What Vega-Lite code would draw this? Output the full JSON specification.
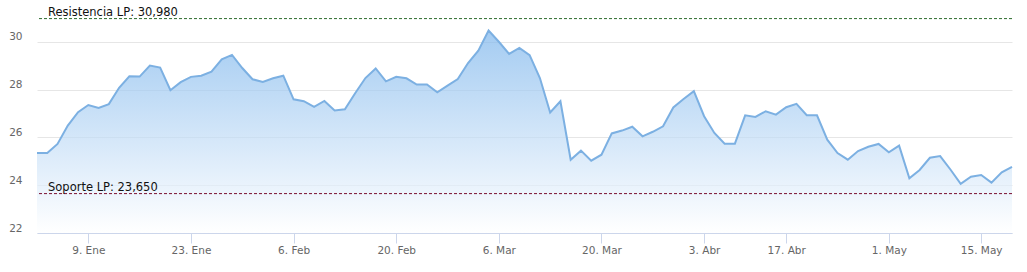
{
  "$schema": "https://vega.github.io/schema/vega-lite/v6.json",
  "width": 975,
  "height": 223,
  "autosize": {"type": "none"},
  "padding": {"left": 37, "top": 10, "right": 15, "bottom": 39},
  "background": "white",
  "config": {
    "view": {"stroke": null},
    "font": "DejaVu Sans",
    "axisX": {"labelAngle": 0, "tickSize": 10, "tickColor": "#ccd6eb", "domainColor": "#ccd6eb", "labelColor": "#666666", "labelFontSize": 10.5, "grid": false, "labelPadding": 2, "title": null},
    "axisY": {"domain": false, "ticks": false, "gridColor": "#e6e6e6", "labelColor": "#666666", "labelFontSize": 10.5, "labelPadding": 15, "labelBaseline": "alphabetic", "labelOffset": -2, "title": null}
  },
  "layer": [
    {
      "data": {"values": [
        {"d": "2017-01-02", "v": 25.35}, {"d": "2017-01-03", "v": 25.35}, {"d": "2017-01-04", "v": 25.73}, {"d": "2017-01-05", "v": 26.5}, {"d": "2017-01-06", "v": 27.06},
        {"d": "2017-01-09", "v": 27.36}, {"d": "2017-01-10", "v": 27.24}, {"d": "2017-01-11", "v": 27.4}, {"d": "2017-01-12", "v": 28.08}, {"d": "2017-01-13", "v": 28.56},
        {"d": "2017-01-16", "v": 28.55}, {"d": "2017-01-17", "v": 29.01}, {"d": "2017-01-18", "v": 28.93}, {"d": "2017-01-19", "v": 27.98}, {"d": "2017-01-20", "v": 28.32},
        {"d": "2017-01-23", "v": 28.54}, {"d": "2017-01-24", "v": 28.59}, {"d": "2017-01-25", "v": 28.76}, {"d": "2017-01-26", "v": 29.27}, {"d": "2017-01-27", "v": 29.46},
        {"d": "2017-01-30", "v": 28.91}, {"d": "2017-01-31", "v": 28.44}, {"d": "2017-02-01", "v": 28.33}, {"d": "2017-02-02", "v": 28.48}, {"d": "2017-02-03", "v": 28.59},
        {"d": "2017-02-06", "v": 27.6}, {"d": "2017-02-07", "v": 27.52}, {"d": "2017-02-08", "v": 27.28}, {"d": "2017-02-09", "v": 27.53}, {"d": "2017-02-10", "v": 27.13},
        {"d": "2017-02-13", "v": 27.18}, {"d": "2017-02-14", "v": 27.85}, {"d": "2017-02-15", "v": 28.49}, {"d": "2017-02-16", "v": 28.89}, {"d": "2017-02-17", "v": 28.35},
        {"d": "2017-02-20", "v": 28.54}, {"d": "2017-02-21", "v": 28.48}, {"d": "2017-02-22", "v": 28.22}, {"d": "2017-02-23", "v": 28.22}, {"d": "2017-02-24", "v": 27.89},
        {"d": "2017-02-27", "v": 28.17}, {"d": "2017-02-28", "v": 28.45}, {"d": "2017-03-01", "v": 29.12}, {"d": "2017-03-02", "v": 29.64}, {"d": "2017-03-03", "v": 30.48},
        {"d": "2017-03-06", "v": 30.01}, {"d": "2017-03-07", "v": 29.5}, {"d": "2017-03-08", "v": 29.75}, {"d": "2017-03-09", "v": 29.45}, {"d": "2017-03-10", "v": 28.49},
        {"d": "2017-03-13", "v": 27.05}, {"d": "2017-03-14", "v": 27.52}, {"d": "2017-03-15", "v": 25.07}, {"d": "2017-03-16", "v": 25.45}, {"d": "2017-03-17", "v": 25.03},
        {"d": "2017-03-20", "v": 25.28}, {"d": "2017-03-21", "v": 26.17}, {"d": "2017-03-22", "v": 26.29}, {"d": "2017-03-23", "v": 26.45}, {"d": "2017-03-24", "v": 26.05},
        {"d": "2017-03-27", "v": 26.24}, {"d": "2017-03-28", "v": 26.47}, {"d": "2017-03-29", "v": 27.26}, {"d": "2017-03-30", "v": 27.61}, {"d": "2017-03-31", "v": 27.94},
        {"d": "2017-04-03", "v": 26.89}, {"d": "2017-04-04", "v": 26.19}, {"d": "2017-04-05", "v": 25.74}, {"d": "2017-04-06", "v": 25.74}, {"d": "2017-04-07", "v": 26.93},
        {"d": "2017-04-10", "v": 26.86}, {"d": "2017-04-11", "v": 27.1}, {"d": "2017-04-12", "v": 26.96}, {"d": "2017-04-13", "v": 27.27},
        {"d": "2017-04-18", "v": 27.41}, {"d": "2017-04-19", "v": 26.93}, {"d": "2017-04-20", "v": 26.93}, {"d": "2017-04-21", "v": 25.91},
        {"d": "2017-04-24", "v": 25.35}, {"d": "2017-04-25", "v": 25.07}, {"d": "2017-04-26", "v": 25.43}, {"d": "2017-04-27", "v": 25.61}, {"d": "2017-04-28", "v": 25.73},
        {"d": "2017-05-02", "v": 25.38}, {"d": "2017-05-03", "v": 25.66}, {"d": "2017-05-04", "v": 24.29}, {"d": "2017-05-05", "v": 24.64},
        {"d": "2017-05-08", "v": 25.15}, {"d": "2017-05-09", "v": 25.22}, {"d": "2017-05-10", "v": 24.66}, {"d": "2017-05-11", "v": 24.06}, {"d": "2017-05-12", "v": 24.36},
        {"d": "2017-05-15", "v": 24.43}, {"d": "2017-05-16", "v": 24.11}, {"d": "2017-05-17", "v": 24.54}, {"d": "2017-05-18", "v": 24.77}
      ]},
      "mark": {
        "type": "area",
        "color": {"gradient": "linear", "x1": 0, "y1": 0, "x2": 0, "y2": 1, "stops": [{"offset": 0, "color": "#7cb5ec"}, {"offset": 1, "color": "#ffffff"}]},
        "line": {"color": "#7cb0e2", "strokeWidth": 2}
      },
      "encoding": {
        "x": {
          "field": "d", "type": "ordinal", "sort": "ascending",
          "scale": {"type": "point", "padding": 0},
          "axis": {
            "title": null,
            "values": ["2017-01-09", "2017-01-23", "2017-02-06", "2017-02-20", "2017-03-06", "2017-03-20", "2017-04-03", "2017-04-13", "2017-05-02", "2017-05-15"],
            "labelExpr": "{'2017-01-09':'9. Ene','2017-01-23':'23. Ene','2017-02-06':'6. Feb','2017-02-20':'20. Feb','2017-03-06':'6. Mar','2017-03-20':'20. Mar','2017-04-03':'3. Abr','2017-04-13':'17. Abr','2017-05-02':'1. May','2017-05-15':'15. May'}[datum.value]"
          }
        },
        "y": {
          "field": "v", "type": "quantitative",
          "scale": {"domain": [22, 31.34], "nice": false, "zero": false},
          "axis": {"title": null, "values": [22, 24, 26, 28, 30]}
        },
        "y2": {"datum": 22}
      }
    },
    {
      "data": {"values": [
        {"level": 30.98, "kind": "res", "label": "Resistencia LP: 30,980", "d": "2017-01-02"},
        {"level": 23.65, "kind": "sup", "label": "Soporte LP: 23,650", "d": "2017-01-02"}
      ]},
      "layer": [
        {
          "mark": {"type": "rule", "strokeDash": [3, 2], "strokeWidth": 1},
          "encoding": {
            "y": {"field": "level", "type": "quantitative", "title": null},
            "color": {"field": "kind", "type": "nominal", "scale": {"domain": ["res", "sup"], "range": ["#2d6a2d", "#7a1030"]}, "legend": null}
          }
        },
        {
          "mark": {"type": "text", "align": "left", "baseline": "alphabetic", "dx": 11, "dy": -3, "fontSize": 11.5, "color": "#111111"},
          "encoding": {
            "x": {"field": "d", "type": "ordinal", "title": null},
            "y": {"field": "level", "type": "quantitative", "title": null},
            "text": {"field": "label"}
          }
        }
      ]
    }
  ]
}
